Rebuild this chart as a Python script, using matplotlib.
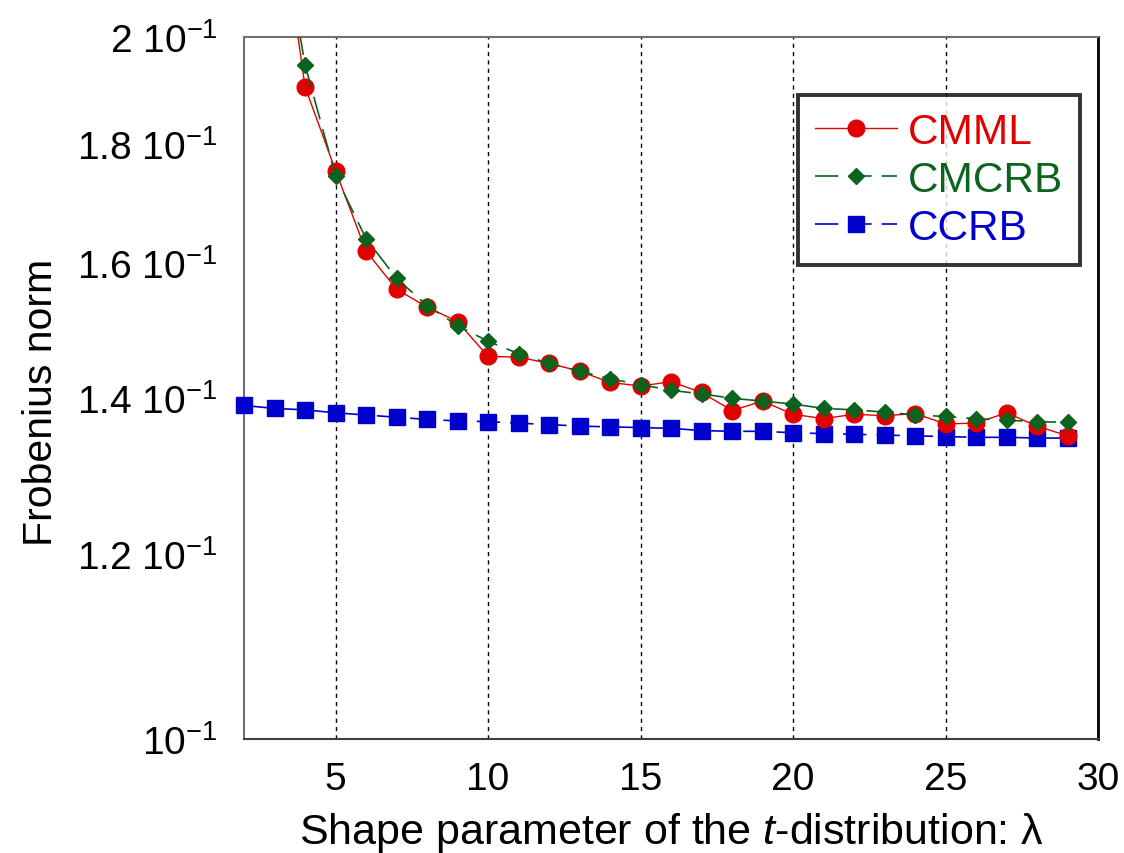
import matplotlib
matplotlib.use("Agg")
import matplotlib.pyplot as plt
from matplotlib.ticker import FixedLocator, FixedFormatter, NullLocator

plt.rcParams['font.family'] = ['Liberation Sans', 'DejaVu Sans']
plt.rcParams['mathtext.fontset'] = 'custom'
plt.rcParams['mathtext.rm'] = 'Liberation Sans'
plt.rcParams['mathtext.it'] = 'Liberation Sans:italic'
plt.rcParams['mathtext.sf'] = 'Liberation Sans'

# ---- data ----
lam_ml = list(range(3, 30))
cmml = [0.236, 0.1904, 0.1753, 0.1619, 0.1559, 0.1532, 0.1510, 0.1459, 0.1458,
        0.1449, 0.1438, 0.1422, 0.1417, 0.1423, 0.1408, 0.1383, 0.1396, 0.1378,
        0.1372, 0.1378, 0.1376, 0.1379, 0.1365, 0.1366, 0.1380, 0.1362, 0.1349]
lam_mc = list(range(3, 30))
cmcrb = [0.232, 0.1946, 0.1744, 0.1639, 0.1576, 0.1534, 0.1504, 0.1481, 0.1463,
         0.1449, 0.1438, 0.1427, 0.1419, 0.1411, 0.1406, 0.1400, 0.1396, 0.1392,
         0.1386, 0.1384, 0.1381, 0.1377, 0.1375, 0.1372, 0.1370, 0.1368, 0.1367]
lam_cc = list(range(2, 30))
ccrb = [0.1390, 0.1386, 0.1384, 0.1380, 0.1377, 0.1374, 0.1371, 0.1369, 0.1368,
        0.1366, 0.1364, 0.1362, 0.1361, 0.1360, 0.1359, 0.1356, 0.1355, 0.1355,
        0.1353, 0.1352, 0.1351, 0.1350, 0.1349, 0.1348, 0.1347, 0.1347, 0.1346,
        0.1346]

xticks = [5, 10, 15, 20, 25, 30]
yticks = [0.1, 0.12, 0.14, 0.16, 0.18, 0.2]
ytick_labels = [r'10$^{-1}$', r'1.2 10$^{-1}$', r'1.4 10$^{-1}$',
                r'1.6 10$^{-1}$', r'1.8 10$^{-1}$', r'2 10$^{-1}$']

RED = '#e00000'
GREEN = '#0a641e'
BLUE = '#0000cc'

fig = plt.figure(figsize=(11.24, 8.54), dpi=100)
ax = fig.add_axes([0.2171, 0.1335, 0.9769 - 0.2171, 0.9555 - 0.1335])

ax.set_yscale('log')
ax.set_xlim(2, 30)
ax.set_ylim(0.1, 0.2)

# vertical grid lines
for xv in xticks[:-1]:
    ax.axvline(xv, color='black', lw=1.0, ls=(0, (3, 3)), zorder=1)

ax.plot(lam_ml, cmml, color=RED, lw=1.0, marker='o', ms=12,
        mec=RED, mfc=RED, label='CMML', zorder=4)
ax.plot(lam_mc, cmcrb, color=GREEN, lw=1.2, ls=(0, (14, 6)), marker='D', ms=8,
        mec=GREEN, mfc=GREEN, label='CMCRB', zorder=5)
ax.plot(lam_cc, ccrb, color=BLUE, lw=1.2, ls=(0, (14, 6)), marker='s', ms=11.5,
        mec=BLUE, mfc=BLUE, label='CCRB', zorder=3, clip_on=False)

ax.xaxis.set_major_locator(FixedLocator(xticks))
ax.yaxis.set_major_locator(FixedLocator(yticks))
ax.yaxis.set_major_formatter(FixedFormatter(ytick_labels))
ax.yaxis.set_minor_locator(NullLocator())
ax.xaxis.set_minor_locator(NullLocator())
ax.tick_params(axis='both', length=0, labelsize=28)
ax.tick_params(axis='y', pad=19)
ax.tick_params(axis='x', pad=16)

for s in ['left', 'top']:
    ax.spines[s].set_color('#707070')
    ax.spines[s].set_linewidth(1.5)
ax.spines['bottom'].set_color('#404040')
ax.spines['bottom'].set_linewidth(1.5)
ax.spines['right'].set_color('black')
ax.spines['right'].set_linewidth(2.0)

ax.set_xlabel('Shape parameter of the $t$-distribution: λ', fontsize=31, labelpad=9)
ax.set_ylabel('Frobenius norm', fontsize=29.5)
ax.yaxis.set_label_coords(-0.215, 0.4815)

leg = ax.legend(loc='upper right', bbox_to_anchor=(0.9788, 0.9174), fontsize=30.5,
                handlelength=1.95, handletextpad=0.25, labelspacing=0.19,
                borderpad=0.4, borderaxespad=0, fancybox=False, frameon=True)
leg.get_frame().set_edgecolor('black')
leg.get_frame().set_linewidth(2.8)
for txt, c in zip(leg.get_texts(), [RED, GREEN, BLUE]):
    txt.set_color(c)

fig.savefig('out.png', dpi=100)
